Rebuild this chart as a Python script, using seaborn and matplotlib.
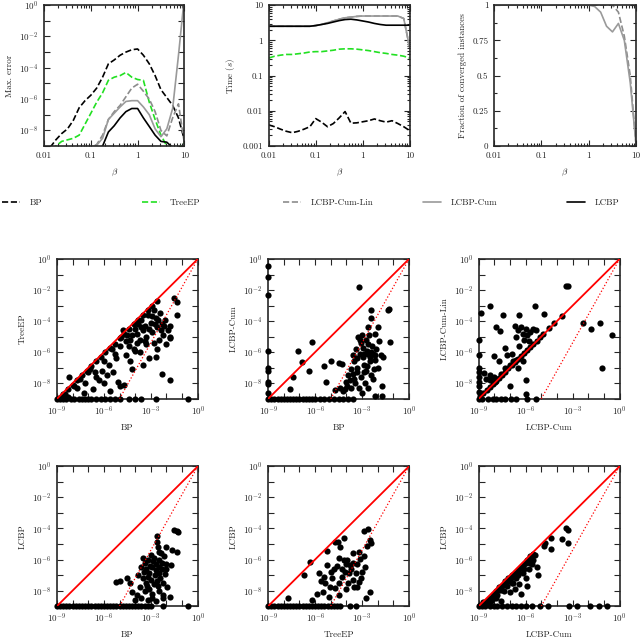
import numpy as np
import pandas as pd
import matplotlib
matplotlib.use("Agg")
import matplotlib.pyplot as plt
import matplotlib.ticker as mticker
from matplotlib.lines import Line2D
import seaborn as sns

# ---------------------------------------------------------------
# Data (exponents are log10 values)
# ---------------------------------------------------------------
beta = [0.01, 0.0133, 0.0178, 0.0237, 0.0316, 0.0422, 0.0562, 0.075, 0.1,
        0.133, 0.178, 0.237, 0.316, 0.422, 0.562, 0.75, 1.0, 1.33, 1.78,
        2.37, 3.16, 4.22, 5.62, 7.5, 10.0]

# max. error (log10)
err_bp = [-9.5, -9.1, -8.6, -8.2, -7.9, -7.35, -6.55, -6.1, -5.75, -5.3, -4.6,
          -3.75, -3.5, -3.2, -3.0, -2.85, -2.8, -3.2, -3.75, -4.5, -5.4, -5.9,
          -6.4, -7.2, -8.6]
err_treeep = [-9.5, -9.3, -9.0, -8.7, -8.6, -8.5, -8.3, -7.6, -6.9, -6.2, -5.6,
              -4.8, -4.6, -4.5, -4.3, -4.6, -4.75, -4.8, -6.2, -7.3, -8.3, -9.0,
              -9.1, -9.1, -8.8]
err_cumlin = [-9.5, -9.5, -9.5, -9.5, -9.5, -9.5, -9.5, -9.3, -9.05, -8.9, -8.3,
              -7.3, -6.8, -6.4, -5.85, -5.3, -5.05, -5.5, -6.0, -6.8, -8.0,
              -8.35, -7.2, -6.3, -8.8]
err_cum = [-9.5, -9.5, -9.5, -9.5, -9.5, -9.5, -9.5, -9.3, -9.1, -8.95, -8.5,
           -7.3, -6.9, -6.5, -6.15, -6.1, -6.1, -6.5, -7.0, -7.9, -8.4, -7.9,
           -6.6, -3.2, 0.5]
err_lcbp = [-9.5, -9.5, -9.5, -9.5, -9.5, -9.5, -9.5, -9.5, -9.5, -9.2, -9.0,
            -8.1, -7.7, -7.2, -6.8, -6.6, -6.6, -7.2, -7.75, -8.3, -8.7,
            -8.75, -9.1, -9.3, -9.5]

# time in seconds (log10)
time_bp = [-2.40, -2.45, -2.52, -2.58, -2.62, -2.58, -2.52, -2.45, -2.22, -2.32,
           -2.45, -2.36, -2.2, -2.02, -2.35, -2.34, -2.31, -2.28, -2.23, -2.28,
           -2.32, -2.28, -2.36, -2.45, -2.56]
time_treeep = [-0.5, -0.45, -0.42, -0.4, -0.4, -0.38, -0.36, -0.33, -0.32, -0.32,
               -0.3, -0.28, -0.25, -0.24, -0.24, -0.25, -0.27, -0.29, -0.32,
               -0.35, -0.37, -0.4, -0.42, -0.45, -0.5]
time_lcbp = [0.4, 0.4, 0.4, 0.4, 0.4, 0.4, 0.4, 0.4, 0.42, 0.45, 0.48, 0.52,
             0.56, 0.59, 0.6, 0.58, 0.55, 0.52, 0.48, 0.45, 0.43, 0.43, 0.43,
             0.43, 0.43]
time_cum = [0.4, 0.4, 0.4, 0.4, 0.4, 0.4, 0.4, 0.4, 0.42, 0.45, 0.5, 0.55, 0.6,
            0.64, 0.66, 0.68, 0.69, 0.69, 0.69, 0.69, 0.69, 0.69, 0.69, 0.62,
            -0.2]
time_cumlin = time_cum

# fraction of converged instances
conv_cumlin = [1, 1, 1, 1, 1, 1, 1, 1, 1, 1, 1, 1, 1, 1, 1, 1, 1, 1, 1, 1, 1,
               0.95, 0.78, 0.5, 0.0]
conv_cum = [1, 1, 1, 1, 1, 1, 1, 1, 1, 1, 1, 1, 1, 1, 1, 1, 1, 0.99, 0.95,
            0.85, 0.81, 0.87, 0.75, 0.45, 0.0]

methods = ["BP", "TreeEP", "LCBP-Cum-Lin", "LCBP-Cum", "LCBP"]

# scatter: BP (x) vs TreeEP (y)
sa_x = [-8.9, -8.6, -8.3, -8.0, -7.7, -7.4, -7.1, -6.8, -6.5, -6.2, -5.9, -5.6,
        -5.3, -5.0, -4.7, -4.4, -4.1, -3.8, -3.5, -3.2, -2.9, -2.6,
        -4.8, -4.5, -4.3, -4.0, -3.8, -3.6, -3.5, -3.3, -3.2, -3.0, -2.9, -2.8,
        -2.7, -2.6, -2.5, -2.4, -2.3, -2.2, -2.1, -2.0, -1.9, -1.8, -1.8, -3.9,
        -4.1, -3.4, -3.7, -4.6, -4.4, -5.0, -5.3, -5.5, -2.6, -3.1, -4.2, -3.5,
        -1.5, -1.3, -1.35, -1.8, -2.3, -1.75, -2.7,
        -6.9, -7.0, -6.5, -6.3, -5.7, -5.4, -5.1, -5.0, -7.7, -7.5, -8.2, -6.0,
        -5.6, -4.7, -7.3, -6.7, -8.5, -6.1, -5.8,
        -4.9, -4.6, -4.2, -3.9, -3.6, -3.4, -3.1, -2.95, -2.75, -2.55, -2.35,
        -2.15, -4.0, -3.3, -2.8, -3.7, -4.3, -5.2, -6.0, -6.6, -7.2, -7.9, -8.3,
        -8.7,
        -9.0, -8.8, -8.6, -8.4, -8.1, -7.9, -7.6, -7.4, -7.2, -7.0, -6.8, -6.5,
        -6.2, -5.9, -5.6, -5.3, -5.0, -4.4, -4.0, -3.6, -2.7, -0.6]
sa_y = [-8.95, -8.7, -8.35, -8.1, -7.8, -7.5, -7.2, -6.9, -6.6, -6.3, -6.0,
        -5.7, -5.45, -5.1, -4.8, -4.5, -4.2, -3.9, -3.6, -3.3, -3.0, -2.7,
        -4.6, -4.9, -5.2, -4.5, -4.2, -3.9, -4.6, -5.0, -3.6, -4.1, -4.7, -3.3,
        -3.8, -4.4, -5.2, -3.5, -4.2, -4.9, -3.9, -5.5, -4.6, -4.3, -5.0, -5.4,
        -5.8, -5.3, -6.0, -6.2, -5.6, -5.6, -6.1, -5.8, -5.8, -6.4, -7.1, -6.8,
        -2.5, -2.8, -3.6, -7.8, -7.4, -5.1, -6.3,
        -7.1, -7.3, -7.6, -7.8, -6.8, -7.3, -7.9, -8.2, -8.3, -7.7, -7.6, -8.0,
        -8.5, -8.1, -8.6, -8.4, -8.7, -7.2, -7.5,
        -5.0, -5.3, -4.9, -4.8, -4.4, -4.3, -4.5, -3.7, -4.2, -3.9, -4.6, -4.3,
        -5.9, -5.5, -5.4, -5.2, -6.6, -6.4, -6.6, -7.3, -8.0, -8.2, -8.9, -8.8,
        -9, -9, -9, -9, -9, -9, -9, -9, -9, -9, -9, -9, -9, -9, -9, -9, -9, -9,
        -9, -9, -9, -9]

# scatter: BP (x) vs LCBP-Cum (y)
sb_x = [-9, -9, -9, -9, -9, -9, -9, -9, -9, -3.2,
        -7.6, -7.4, -7.1, -6.85, -6.4, -6.2, -5.4, -5.3, -5.0, -4.5, -4.3, -4.1,
        -4.4, -4.7,
        -2.45, -2.4, -2.6, -2.0, -1.35, -1.25, -1.2, -1.65, -1.7, -2.2,
        -3.25, -3.05, -2.95, -2.85, -2.7, -2.5, -2.3, -2.15, -3.3, -3.5, -3.7,
        -3.9, -3.5, -3.3, -2.9, -2.7, -2.45, -2.3, -2.8, -3.2, -3.7, -3.95, -4.2,
        -2.6, -2.35, -2.1, -2.75, -3.0, -2.55, -3.4, -3.6, -3.1, -2.9, -3.45,
        -2.0, -1.8, -1.9, -2.2,
        -3.15, -2.95, -2.65, -2.4, -2.2, -3.35, -3.05, -2.75, -2.5, -2.25, -3.6,
        -3.8, -4.0, -2.6, -3.0,
        -9.0, -8.8, -8.6, -8.4, -8.2, -8.0, -7.8, -7.6, -7.4, -7.2, -7.0, -6.8,
        -6.6, -6.4, -6.2, -6.0, -5.7, -5.4, -5.1, -4.8, -4.5, -4.2, -3.9, -3.6,
        -1.7]
sb_y = [-0.45, -1.15, -2.3, -5.95, -7.0, -7.2, -7.9, -8.05, -8.6, -1.8,
        -8.4, -7.6, -5.9, -6.65, -7.2, -5.35, -6.9, -7.9, -6.6, -6.7, -6.75,
        -8.4, -8.3, -8.45,
        -3.3, -3.8, -4.35, -4.4, -3.3, -3.25, -5.35, -6.3, -8.2, -8.85,
        -5.0, -5.4, -5.7, -6.1, -5.9, -6.3, -6.1, -6.5, -6.4, -6.6, -7.1, -7.5,
        -7.7, -7.3, -6.8, -6.9, -7.5, -7.7, -8.0, -8.3, -8.3, -8.2, -8.5, -5.5,
        -5.6, -5.8, -5.2, -4.9, -4.9, -5.8, -6.2, -6.1, -7.3, -8.0, -7.0, -6.2,
        -5.3, -4.8,
        -5.2, -6.3, -6.1, -6.0, -6.2, -7.0, -7.6, -7.2, -6.6, -7.1, -7.4, -7.8,
        -7.9, -8.3, -8.6,
        -9, -9, -9, -9, -9, -9, -9, -9, -9, -9, -9, -9, -9, -9, -9, -9, -9, -9,
        -9, -9, -9, -9, -9, -9, -8.85]

# scatter: LCBP-Cum (x) vs LCBP-Cum-Lin (y)
sc_x = [-8.9, -8.7, -8.5, -8.3, -8.1, -7.9, -7.7, -7.5, -7.3, -7.1, -6.9, -6.7,
        -6.5, -6.3, -6.1, -5.9, -5.7, -5.5, -5.3, -5.1, -4.9, -4.5, -4.2, -3.7,
        -3.4, -3.3, -8.25, -8.85, -7.45, -6.4, -5.4, -4.8, -7.9, -7.65, -6.7,
        -6.5, -6.3, -6.2, -6.0, -5.9, -5.7, -5.5, -5.35, -6.1, -5.8, -6.6, -8.0,
        -7.7, -7.35, -7.2, -6.9, -6.6, -6.4, -9, -9, -9, -9, -9, -9, -9, -9,
        -8.65, -8.3, -8.0, -8.55, -8.25, -7.95, -7.6, -7.3, -7.0, -6.8,
        -7.0, -5.95, -5.95, -2.35, -1.85, -1.25, -0.5, -1.15, -6.5, -6.2,
        -9.0, -8.8, -8.4, -8.1, -7.9, -7.6, -7.3, -6.95, -6.6, -5.9, -5.35]
sc_y = [-8.85, -8.65, -8.45, -8.25, -8.05, -7.85, -7.65, -7.45, -7.25, -7.05,
        -6.85, -6.65, -6.45, -6.25, -6.05, -5.85, -5.65, -5.45, -5.25, -5.05,
        -4.85, -4.45, -4.15, -3.65,
        -1.75, -1.75, -3.0, -3.45, -3.6, -3.6, -3.0, -3.55, -4.4, -4.65, -4.3,
        -4.6, -4.4, -4.8, -4.5, -4.9, -4.7, -4.5, -4.6, -5.2, -5.3, -5.0, -6.25,
        -6.6, -5.75, -6.2, -6.1, -6.5, -5.6, -5.2, -6.15, -7.0, -7.25, -7.6,
        -7.9, -8.2, -8.55, -7.35, -7.45, -7.6, -7.7, -7.8, -7.9, -7.4, -7.0,
        -6.8, -6.6,
        -8.2, -7.8, -8.7, -4.15, -4.5, -4.15, -4.9, -7.05, -7.0, -6.6,
        -9, -9, -9, -9, -9, -9, -9, -9, -9, -9, -9]

# scatter: BP (x) vs LCBP (y)
sd_x = [-9.0, -8.8, -8.6, -8.4, -8.2, -8.0, -7.8, -7.6, -7.4, -7.2, -7.0, -6.8,
        -6.6, -6.4, -6.2, -6.0, -5.8, -5.6, -5.4, -5.2, -5.0, -4.8, -4.6, -4.4,
        -4.2, -4.0, -3.8, -3.6, -3.4, -3.2, -3.0, -2.25, -0.6,
        -1.55, -1.35, -1.25, -1.3, -2.6, -2.6, -2.55, -2.45,
        -3.5, -3.2, -3.0, -2.8, -2.5, -2.3, -2.15, -3.6, -3.3, -3.1, -2.9, -2.7,
        -2.5, -2.3, -2.1, -3.8, -3.5, -3.3, -3.0, -2.8, -2.6, -2.4, -2.2, -3.7,
        -3.4, -3.1, -2.9, -2.5, -2.25, -1.75, -1.7, -2.0, -1.95, -2.2, -3.9,
        -4.2, -4.0, -4.5, -5.0, -5.25, -4.35, -3.6, -3.2, -2.7, -1.65, -2.0,
        -3.35, -3.05, -2.85, -2.65, -2.45, -2.35, -2.05, -3.45, -3.15, -2.75,
        -2.55, -3.25, -2.95]
sd_y = [-9, -9, -9, -9, -9, -9, -9, -9, -9, -9, -9, -9, -9, -9, -9, -9, -9, -9,
        -9, -9, -9, -9, -9, -9, -9, -9, -9, -9, -9, -9, -9, -9, -9,
        -4.1, -4.15, -4.2, -5.5, -4.5, -4.85, -5.2, -5.5,
        -5.9, -6.0, -5.7, -5.9, -6.0, -6.2, -5.8, -6.5, -6.6, -6.9, -6.5, -6.7,
        -6.9, -6.6, -6.95, -7.0, -7.2, -7.5, -7.3, -7.6, -7.4, -7.2, -7.5, -7.8,
        -8.0, -7.9, -8.2, -8.05, -8.3, -8.4, -6.35, -6.3, -7.8, -8.5, -8.3,
        -8.1, -8.6, -7.2, -7.4, -7.45, -7.5, -8.5, -8.6, -8.7, -5.4, -5.2,
        -6.2, -6.4, -6.1, -6.3, -6.45, -5.6, -6.6, -6.8, -7.1, -7.0, -7.7, -7.7,
        -8.5]

# scatter: TreeEP (x) vs LCBP (y)
se_x = [-6.35, -6.7, -7.75, -5.25, -4.7, -4.55, -4.4, -4.15, -2.85, -2.6, -2.5,
        -2.45, -3.6, -3.2, -3.1, -2.8, -2.7, -4.15, -3.95, -3.75, -5.75, -5.45,
        -5.25, -5.65, -5.35, -5.05, -4.7, -4.5, -4.3, -4.1, -4.0, -3.7, -3.6,
        -3.4, -3.2, -2.75, -2.5, -4.8, -5.0, -4.6, -3.9, -3.5, -4.9, -3.3, -3.0,
        -5.9, -5.5, -4.5, -6.2, -5.1,
        -4.45, -4.25, -3.85, -3.55, -3.35, -3.05, -2.9, -4.05,
        -9.0, -8.8, -8.6, -8.4, -8.2, -8.0, -7.8, -7.6, -7.4, -7.2, -7.0, -6.8,
        -6.6, -6.4, -6.2, -6.0, -5.8, -5.6, -5.4, -5.2, -5.0, -4.8, -4.6, -4.4,
        -3.8, -3.4]
se_y = [-6.15, -7.0, -8.45, -5.45, -4.85, -4.9, -5.2, -4.6, -4.15, -4.05,
        -4.75, -4.95, -5.55, -5.5, -5.95, -6.5, -5.1, -6.05, -6.05, -6.35, -6.9,
        -7.1, -6.35, -7.4, -7.5, -7.75, -7.85, -7.5, -7.1, -6.8, -6.3, -6.6,
        -7.3, -6.9, -7.45, -8.45, -8.1, -6.6, -6.8, -6.4, -7.5, -7.8, -7.2,
        -6.3, -6.8, -8.2, -8.1, -8.3, -8.6, -8.4,
        -5.9, -6.6, -6.9, -6.2, -7.8, -7.2, -5.8, -7.9,
        -9, -9, -9, -9, -9, -9, -9, -9, -9, -9, -9, -9, -9, -9, -9, -9, -9, -9,
        -9, -9, -9, -9, -9, -9, -9, -9]

# scatter: LCBP-Cum (x) vs LCBP (y)
sf_x = [-8.9, -8.7, -8.4, -8.1, -7.9, -7.7, -7.5, -7.3, -7.1, -6.9, -6.7, -6.5,
        -6.3, -6.1, -5.9, -5.7, -5.55,
        -8.5, -8.0, -7.8, -7.6, -7.4, -7.2, -7.0, -6.8, -6.6, -6.4, -6.2, -6.0,
        -5.8, -5.6, -5.9, -6.3, -6.7, -5.5, -5.3, -5.2, -5.4, -7.6, -6.9, -6.5,
        -6.1, -5.7, -7.9, -8.2, -7.0,
        -8.6, -8.3, -8.0, -7.7, -7.4, -7.1, -6.8, -6.5, -6.2, -5.95, -5.75,
        -5.65,
        -3.4, -3.3, -3.3, -3.7, -4.35, -4.4, -4.8, -4.75,
        -9.0, -8.8, -8.6, -8.3, -8.0, -7.8, -7.5, -7.2, -6.9, -6.6, -6.3, -6.0,
        -5.6, -5.1, -4.6, -3.2, -2.7, -1.9, -1.3, -0.8]
sf_y = [-8.9, -8.75, -8.6, -8.3, -8.0, -7.8, -7.7, -7.4, -7.2, -7.0, -6.85,
        -6.7, -6.5, -6.3, -6.0, -5.8, -5.65,
        -8.8, -8.5, -8.3, -8.7, -8.0, -7.7, -8.1, -7.5, -7.2, -7.6, -6.9, -7.2,
        -6.6, -6.3, -7.7, -8.2, -7.9, -6.0, -6.5, -7.0, -5.7, -7.95, -7.5, -7.0,
        -6.6, -6.2, -8.45, -8.7, -7.4,
        -8.75, -8.45, -8.2, -7.95, -7.55, -7.4, -7.1, -6.85, -6.6, -6.2, -6.0,
        -5.9,
        -3.95, -4.1, -4.95, -4.65, -4.6, -5.3, -5.15, -4.95,
        -9, -9, -9, -9, -9, -9, -9, -9, -9, -9, -9, -9, -9, -9, -9, -9, -9, -9,
        -9, -9]

# reference lines: y = x (solid) and the dotted bound
diag_x = [1e-9, 1.0]
dotted_x = [1e-5, 1.0]
dotted_y = [1e-9, 1.0]

# legend handle start positions (figure fraction)
legend_x = [0.003, 0.222, 0.442, 0.661, 0.886]

# ---------------------------------------------------------------
# Style
# ---------------------------------------------------------------
sns.set_style("ticks")
plt.rcParams["font.family"] = ["serif"]
plt.rcParams["font.serif"] = ["cmr10", "DejaVu Serif"]
plt.rcParams["mathtext.fontset"] = "cm"
plt.rcParams["axes.formatter.use_mathtext"] = True
plt.rcParams["font.size"] = 6.5
plt.rcParams["axes.labelsize"] = 6.5

colors = {"BP": "black", "TreeEP": "#22e022", "LCBP-Cum-Lin": "#8c8c8c",
          "LCBP-Cum": "#9a9a9a", "LCBP": "black"}
styles = {"BP": "--", "TreeEP": "--", "LCBP-Cum-Lin": "--", "LCBP-Cum": "-",
          "LCBP": "-"}


def style_axes(ax):
    ax.tick_params(which="both", direction="in", top=True, right=True,
                   labelsize=6.5, width=0.8, pad=4)
    ax.tick_params(which="major", length=4)
    ax.tick_params(which="minor", length=2)
    for s in ax.spines.values():
        s.set_linewidth(1.2)


def pow_fmt(step):
    def f(v, pos):
        e = int(round(np.log10(v)))
        return f"$10^{{{e}}}$" if e % step == 0 else ""
    return mticker.FuncFormatter(f)


def beta_axis(ax):
    ax.set_xscale("log")
    ax.set_xlim(0.01, 10)
    ax.xaxis.set_major_locator(mticker.FixedLocator([0.01, 0.1, 1, 10]))
    ax.xaxis.set_major_formatter(mticker.FixedFormatter(["0.01", "0.1", "1", "10"]))
    ax.xaxis.set_minor_locator(mticker.LogLocator(subs=np.arange(2, 10)))
    ax.xaxis.set_minor_formatter(mticker.NullFormatter())
    ax.set_xlabel(r"$\beta$", labelpad=5)


fig = plt.figure(figsize=(6.4, 6.38), dpi=100)

# ---------------------------------------------------------------
# Top row: error, time, convergence vs beta
# ---------------------------------------------------------------
ax_err = fig.add_axes([0.069, 0.771, 0.219, 0.221])
ax_time = fig.add_axes([0.420, 0.771, 0.220, 0.221])
ax_conv = fig.add_axes([0.772, 0.771, 0.222, 0.221])

err = {"BP": err_bp, "TreeEP": err_treeep, "LCBP-Cum-Lin": err_cumlin,
       "LCBP-Cum": err_cum, "LCBP": err_lcbp}
tim = {"BP": time_bp, "TreeEP": time_treeep, "LCBP-Cum-Lin": time_cumlin,
       "LCBP-Cum": time_cum, "LCBP": time_lcbp}
conv = {"LCBP-Cum-Lin": conv_cumlin, "LCBP-Cum": conv_cum}

for m in methods:
    sns.lineplot(x=beta, y=10.0 ** np.array(err[m]), ax=ax_err, color=colors[m],
                 linestyle=styles[m], lw=1.2)
    sns.lineplot(x=beta, y=10.0 ** np.array(tim[m]), ax=ax_time, color=colors[m],
                 linestyle=styles[m], lw=1.2)
for m in ["LCBP-Cum-Lin", "LCBP-Cum"]:
    sns.lineplot(x=beta, y=conv[m], ax=ax_conv, color=colors[m],
                 linestyle=styles[m], lw=1.2)

ax_err.set_yscale("log")
ax_err.set_ylim(1e-9, 1)
ax_err.yaxis.set_major_locator(mticker.FixedLocator([10.0 ** k for k in range(-9, 1)]))
ax_err.yaxis.set_major_formatter(pow_fmt(2))
ax_err.yaxis.set_minor_locator(mticker.NullLocator())
ax_err.set_ylabel("Max. error")
beta_axis(ax_err)

ax_time.set_yscale("log")
ax_time.set_ylim(1e-3, 10)
ax_time.yaxis.set_major_locator(mticker.FixedLocator([0.001, 0.01, 0.1, 1, 10]))
ax_time.yaxis.set_major_formatter(mticker.FixedFormatter(["0.001", "0.01", "0.1", "1", "10"]))
ax_time.yaxis.set_minor_locator(mticker.LogLocator(subs=np.arange(2, 10)))
ax_time.yaxis.set_minor_formatter(mticker.NullFormatter())
ax_time.set_ylabel(r"Time ($s$)")
beta_axis(ax_time)

ax_conv.set_ylim(0, 1)
ax_conv.yaxis.set_major_locator(mticker.FixedLocator([0, 0.25, 0.5, 0.75, 1]))
ax_conv.yaxis.set_major_formatter(mticker.FixedFormatter(["0", "0.25", "0.5", "0.75", "1"]))
ax_conv.yaxis.set_minor_locator(mticker.MultipleLocator(0.125))
ax_conv.set_ylabel("Fraction of converged instances")
beta_axis(ax_conv)

for ax in (ax_err, ax_time, ax_conv):
    style_axes(ax)

# legend row, one entry per column like the original layout
for m, lx in zip(methods, legend_x):
    h = Line2D([], [], color=colors[m], linestyle=styles[m], lw=1.2)
    fig.legend([h], [m], loc="center left", bbox_to_anchor=(lx, 0.682),
               frameon=False, handlelength=2.0, handletextpad=1.1,
               borderaxespad=0, borderpad=0, fontsize=6.5)

# ---------------------------------------------------------------
# Scatter comparisons
# ---------------------------------------------------------------
panels = [
    (sa_x, sa_y, "BP", "TreeEP", [0.089, 0.375]),
    (sb_x, sb_y, "BP", "LCBP-Cum", [0.419, 0.375]),
    (sc_x, sc_y, "LCBP-Cum", "LCBP-Cum-Lin", [0.748, 0.375]),
    (sd_x, sd_y, "BP", "LCBP", [0.089, 0.050]),
    (se_x, se_y, "TreeEP", "LCBP", [0.419, 0.050]),
    (sf_x, sf_y, "LCBP-Cum", "LCBP", [0.748, 0.050]),
]

for xs, ys, xl, yl, pos in panels:
    ax = fig.add_axes([pos[0], pos[1], 0.220, 0.219])
    df = pd.DataFrame({"x": 10.0 ** np.array(xs), "y": 10.0 ** np.array(ys)})
    sns.scatterplot(data=df, x="x", y="y", ax=ax, color="black", s=20,
                    linewidth=0, clip_on=False, zorder=3)
    sns.lineplot(x=diag_x, y=diag_x, ax=ax, color="red", lw=1.3, zorder=4)
    sns.lineplot(x=dotted_x, y=dotted_y, ax=ax, color="red", lw=0.9,
                 linestyle=":", zorder=4)
    ax.set_xscale("log")
    ax.set_yscale("log")
    ax.set_xlim(1e-9, 1)
    ax.set_ylim(1e-9, 1)
    decades = [10.0 ** k for k in range(-9, 1)]
    ax.xaxis.set_major_locator(mticker.FixedLocator(decades))
    ax.yaxis.set_major_locator(mticker.FixedLocator(decades))
    ax.xaxis.set_major_formatter(pow_fmt(3))
    ax.yaxis.set_major_formatter(pow_fmt(2))
    ax.xaxis.set_minor_locator(mticker.NullLocator())
    ax.yaxis.set_minor_locator(mticker.NullLocator())
    ax.set_xlabel(xl, labelpad=4)
    ax.set_ylabel(yl)
    style_axes(ax)

fig.savefig("out.png", dpi=100)
